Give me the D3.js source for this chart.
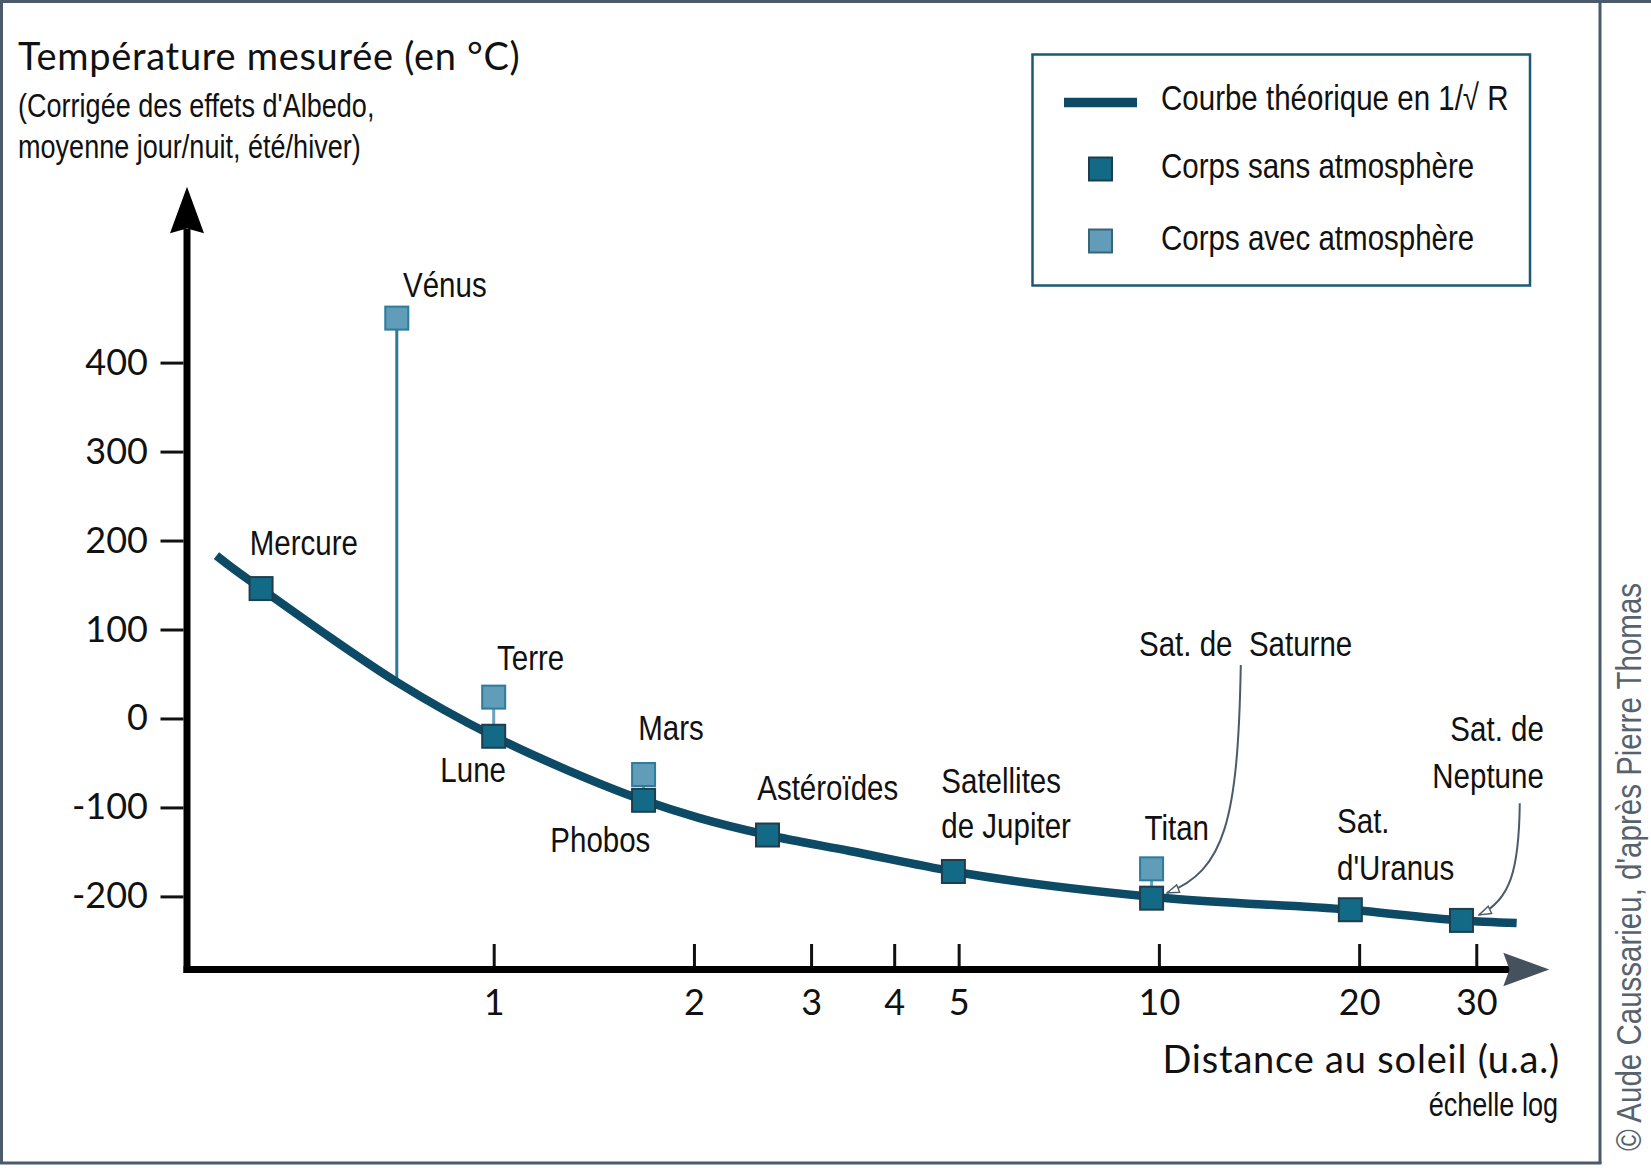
<!DOCTYPE html>
<html>
<head>
<meta charset="utf-8">
<script src="https://cdn.jsdelivr.net/npm/d3@7"></script>
<style>
  html, body { margin: 0; padding: 0; background: #fff; }
  svg { display: block; }
</style>
</head>
<body>
<svg id="chart" width="1651" height="1168"></svg>
<script>
// ---------------- DATA ----------------
// Theoretical curve in 1/sqrt(R)
const curveDist = [0.383, 0.40, 0.447, 0.568, 0.715, 1.0, 1.29, 1.68, 2.04, 2.58, 3.43, 4.91, 10.3, 19.4, 28.5, 34.5];
const curveTemp = [183, 172, 146, 91, 41, -20, -58, -92, -112, -131, -149, -172, -202, -215, -227, -230];

// Bodies without atmosphere
const bodyNames = ["Mercure", "Lune", "Phobos", "Astéroïdes", "Satellites de Jupiter", "Titan (surface)", "Sat. d'Uranus", "Sat. de Neptune"];
const bodyDist  = [0.447, 1.0, 1.68, 2.58, 4.91, 9.75, 19.4, 28.5];
const bodyTemp  = [146, -20, -92, -131, -172, -202, -215, -227];

// Bodies with atmosphere (measured) and the temperature the stem drops to
const atmNames = ["Vénus", "Terre", "Mars", "Titan"];
const atmDist  = [0.715, 1.0, 1.68, 9.75];
const atmTemp  = [450, 24, -63, -169];
const atmBase  = [41, -20, -92, -202];

// Axis ticks
const xTicks = [1, 2, 3, 4, 5, 10, 20, 30];
const yTicks = [-200, -100, 0, 100, 200, 300, 400];

// Text
const titleText = "Température mesurée (en °C)";
const subtitleLines = ["(Corrigée des effets d'Albedo,", "moyenne jour/nuit, été/hiver)"];
const xTitle = "Distance au soleil (u.a.)";
const xSubTitle = "échelle log";
const legendLabels = ["Courbe théorique en 1/\u221A R", "Corps sans atmosphère", "Corps avec atmosphère"];
const credit = "© Aude Caussarieu, d'après Pierre Thomas";

// ---------------- LAYOUT / STYLE ----------------
const W = 1651, H = 1168;
const NARROW = "'Liberation Sans', Arial, sans-serif";   // drawn horizontally condensed
const NX = 0.82;                                         // condensing factor
const SANS = "Lato, 'Noto Sans', sans-serif";
const C_CURVE = "#0d4a66", C_BODY = "#136a86", C_BODY_S = "#1e3e4d";
const C_ATM = "#619cb8", C_ATM_S = "#2d7c9a", C_FRAME = "#4b5b69";

const axisX = 187, axisY = 969.5;

const x = d3.scaleLog().domain([1, 10]).range([493.7, 1158.9]);
const y = d3.scaleLinear().domain([-200, 400]).range([896.4, 362.6]);

const svg = d3.select("#chart");

// condensed text helper
function ntext(parent, px, py, str, size, anchor, fill, rot) {
  return parent.append("text")
    .attr("transform", `translate(${px},${py})${rot ? ` rotate(${rot})` : ""} scale(${NX},1)`)
    .attr("font-family", NARROW).attr("font-size", size)
    .attr("text-anchor", anchor || "start").attr("fill", fill || "#111")
    .text(str);
}

// frame
const frame = svg.append("g").attr("stroke", C_FRAME).attr("stroke-width", 3);
frame.append("line").attr("x1", 0).attr("x2", W).attr("y1", 1.5).attr("y2", 1.5);
frame.append("line").attr("x1", 1.5).attr("x2", 1.5).attr("y1", 0).attr("y2", 1163.5);
frame.append("line").attr("x1", 1600).attr("x2", 1600).attr("y1", 0).attr("y2", 1163.5);
frame.append("line").attr("x1", 0).attr("x2", 1601.5).attr("y1", 1163).attr("y2", 1163);

// credit (vertical)
ntext(svg, 1641, 1151, credit, 36, "start", "#56636e", -90);

// title & subtitle
svg.append("text").attr("x", 18).attr("y", 70)
  .attr("font-family", SANS).attr("font-size", 38).attr("letter-spacing", 0.7).attr("fill", "#111")
  .text(titleText);
subtitleLines.forEach((s, i) => ntext(svg, 18, 116.7 + i * 41.6, s, 33));

// ---------- axes ----------
const gy = svg.append("g").attr("transform", `translate(${axisX - 3.5},0)`)
  .call(d3.axisLeft(y).tickValues(yTicks).tickSize(23).tickPadding(12.5).tickFormat(d => String(d)));
gy.select(".domain").remove();
gy.selectAll(".tick line").attr("stroke", "#111").attr("stroke-width", 3);
gy.selectAll(".tick text").attr("font-family", SANS).attr("font-size", 36).attr("fill", "#111");

const gx = svg.append("g").attr("transform", `translate(0,${axisY - 3.5})`)
  .call(d3.axisBottom(x).tickValues(xTicks).tickSize(-22).tickPadding(23).tickFormat(d => String(d)));
gx.select(".domain").remove();
gx.selectAll(".tick line").attr("stroke", "#111").attr("stroke-width", 3);
gx.selectAll(".tick text").attr("font-family", SANS).attr("font-size", 36).attr("fill", "#111");

// axis lines and arrows
svg.append("line").attr("x1", axisX).attr("x2", axisX).attr("y1", 229).attr("y2", axisY + 3.5)
  .attr("stroke", "#000").attr("stroke-width", 7);
svg.append("path")
  .attr("d", `M${axisX},186.7 L${axisX + 17},233.3 L${axisX},228.5 L${axisX - 17},233.3 Z`)
  .attr("fill", "#000");
svg.append("line").attr("x1", axisX - 3.5).attr("x2", 1510).attr("y1", axisY).attr("y2", axisY)
  .attr("stroke", "#000").attr("stroke-width", 7);
svg.append("path")
  .attr("d", `M1549.3,${axisY} L1503.3,${axisY - 16.8} L1509.5,${axisY} L1503.3,${axisY + 16.8} Z`)
  .attr("fill", "#45525e");

// axis titles
svg.append("text").attr("x", 1560).attr("y", 1073).attr("text-anchor", "end")
  .attr("font-family", SANS).attr("font-size", 38).attr("letter-spacing", 0.8).attr("fill", "#111").text(xTitle);
ntext(svg, 1558, 1116, xSubTitle, 33, "end");

// ---------- stems ----------
const atm = atmNames.map((n, i) => ({ name: n, d: atmDist[i], t: atmTemp[i], b: atmBase[i] }));
svg.append("g").selectAll("line").data(atm).join("line")
  .attr("x1", d => x(d.d)).attr("x2", d => x(d.d))
  .attr("y1", d => y(d.t)).attr("y2", d => y(d.b))
  .attr("stroke", d => d.name === "Vénus" ? "#2b7b99" : "#6aa2bc")
  .attr("stroke-width", 3);

// ---------- curve ----------
const curvePts = curveDist.map((d, i) => [x(d), y(curveTemp[i])]);
svg.append("path")
  .attr("d", d3.line().curve(d3.curveMonotoneX)(curvePts))
  .attr("fill", "none").attr("stroke", C_CURVE).attr("stroke-width", 8.5);

// ---------- squares ----------
const S = 23;
const bodies = bodyNames.map((n, i) => ({ name: n, d: bodyDist[i], t: bodyTemp[i] }));
svg.append("g").selectAll("rect").data(bodies).join("rect")
  .attr("x", d => x(d.d) - S / 2).attr("y", d => y(d.t) - S / 2)
  .attr("width", S).attr("height", S)
  .attr("fill", C_BODY).attr("stroke", C_BODY_S).attr("stroke-width", 2);
svg.append("g").selectAll("rect").data(atm).join("rect")
  .attr("x", d => x(d.d) - S / 2).attr("y", d => y(d.t) - S / 2)
  .attr("width", S).attr("height", S)
  .attr("fill", C_ATM).attr("stroke", C_ATM_S).attr("stroke-width", 2);

// ---------- labels ----------
const labelLayout = [
  { lines: ["Mercure"], d: bodyDist[0], t: bodyTemp[0], dx: -11.3, dy: [-33.1], anchor: "start" },
  { lines: ["Vénus"], d: atmDist[0], t: atmTemp[0], dx: 6.2, dy: [-21.4], anchor: "start" },
  { lines: ["Terre"], d: atmDist[1], t: atmTemp[1], dx: 3.3, dy: [-26.7], anchor: "start" },
  { lines: ["Lune"], d: bodyDist[1], t: bodyTemp[1], dx: 12.3, dy: [45.7], anchor: "end" },
  { lines: ["Mars"], d: atmDist[2], t: atmTemp[2], dx: -5.3, dy: [-34.1], anchor: "start" },
  { lines: ["Phobos"], d: bodyDist[2], t: bodyTemp[2], dx: 6.8, dy: [51.3], anchor: "end" },
  { lines: ["Astéroïdes"], d: bodyDist[3], t: bodyTemp[3], dx: -10.3, dy: [-34.9], anchor: "start" },
  { lines: ["Satellites", "de Jupiter"], d: bodyDist[4], t: bodyTemp[4], dx: -12.1, dy: [-78.6, -33.2], anchor: "start" },
  { lines: ["Titan"], d: atmDist[3], t: atmTemp[3], dx: -7.1, dy: [-28.9], anchor: "start" },
  { lines: ["Sat. de\u00A0\u00A0Saturne"], d: bodyDist[5], t: bodyTemp[5], dx: -12.6, dy: [-242.3], anchor: "start" },
  { lines: ["Sat.", "d'Uranus"], d: bodyDist[6], t: bodyTemp[6], dx: -13.3, dy: [-77.1, -30.1], anchor: "start" },
  { lines: ["Sat. de", "Neptune"], d: bodyDist[7], t: bodyTemp[7], dx: 82.4, dy: [-179.8, -132.9], anchor: "end" }
];
const lg = svg.append("g");
labelLayout.forEach(l => {
  l.lines.forEach((line, i) => {
    ntext(lg, x(l.d) + l.dx, y(l.t) + l.dy[i], line, 36, l.anchor);
  });
});

// ---------- leader arrows (Saturne, Neptune) ----------
const defs = svg.append("defs");
defs.append("marker").attr("id", "openArrow")
  .attr("viewBox", "0 0 14 10").attr("refX", 13).attr("refY", 5)
  .attr("markerWidth", 14).attr("markerHeight", 10)
  .attr("markerUnits", "userSpaceOnUse").attr("orient", "auto")
  .append("path").attr("d", "M1,1 L13,5 L1,9 Z")
  .attr("fill", "#fff").attr("stroke", "#4a5b69").attr("stroke-width", 1.4);

function leader(d, t, pts) {
  const px = x(d), py = y(t);
  const p = pts.map(q => [px + q[0], py + q[1]]);
  return `M${p[0]} C${p[1]} ${p[2]} ${p[3]}`;
}
svg.append("path")
  .attr("d", leader(bodyDist[5], bodyTemp[5], [[89.2, -233.2], [86.4, -78], [73.4, -28], [15.4, -5.2]]))
  .attr("fill", "none").attr("stroke", "#4a5b69").attr("stroke-width", 2)
  .attr("marker-end", "url(#openArrow)");
svg.append("path")
  .attr("d", leader(bodyDist[7], bodyTemp[7], [[58.3, -117.2], [57.6, -50], [48.6, -20], [17.6, -5.5]]))
  .attr("fill", "none").attr("stroke", "#4a5b69").attr("stroke-width", 2)
  .attr("marker-end", "url(#openArrow)");

// ---------- legend ----------
const leg = svg.append("g");
leg.append("rect").attr("x", 1032.5).attr("y", 54.5).attr("width", 497.5).attr("height", 231)
  .attr("fill", "#fff").attr("stroke", "#1b5874").attr("stroke-width", 2.5);
leg.append("line").attr("x1", 1064).attr("x2", 1137).attr("y1", 102.5).attr("y2", 102.5)
  .attr("stroke", C_CURVE).attr("stroke-width", 9.5);
leg.append("rect").attr("x", 1100.5 - S / 2).attr("y", 169 - S / 2).attr("width", S).attr("height", S)
  .attr("fill", C_BODY).attr("stroke", C_BODY_S).attr("stroke-width", 2);
leg.append("rect").attr("x", 1100.5 - S / 2).attr("y", 241 - S / 2).attr("width", S).attr("height", S)
  .attr("fill", C_ATM).attr("stroke", "#3a6577").attr("stroke-width", 2);
legendLabels.forEach((s, i) => ntext(leg, 1161, [110, 177.7, 250][i], s, 36));
</script>
</body>
</html>
